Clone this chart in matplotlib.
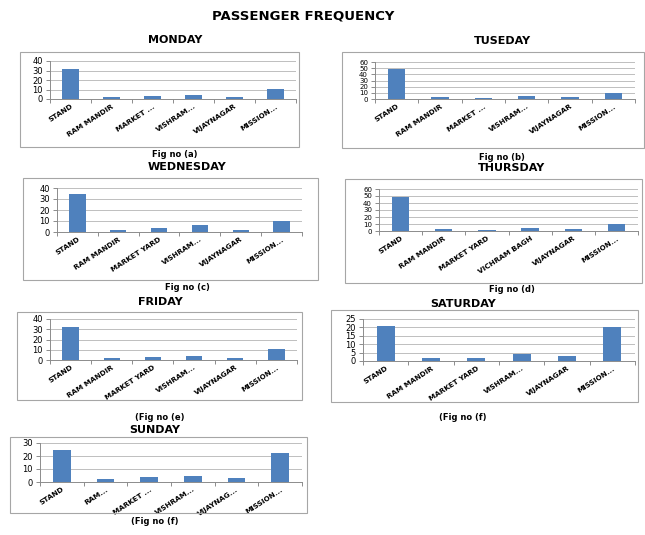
import matplotlib
matplotlib.use("Agg")
import matplotlib.pyplot as plt
from matplotlib.patches import Rectangle
import numpy as np

W, H = 645, 535

days = ["MONDAY", "TUSEDAY", "WEDNESDAY", "THURSDAY", "FRIDAY", "SATURDAY", "SUNDAY"]
captions = ["Fig no (a)", "Fig no (b)", "Fig no (c)", "Fig no (d)",
            "(Fig no (e)", "(Fig no (f)", "(Fig no (f)"]

labels_mon = ["STAND", "RAM MANDIR", "MARKET ...", "VISHRAM...", "VIJAYNAGAR", "MISSION..."]
labels_tue = ["STAND", "RAM MANDIR", "MARKET ...", "VISHRAM...", "VIJAYNAGAR", "MISSION..."]
labels_wed = ["STAND", "RAM MANDIR", "MARKET YARD", "VISHRAM...", "VIJAYNAGAR", "MISSION..."]
labels_thu = ["STAND", "RAM MANDIR", "MARKET YARD", "VICHRAM BAGH", "VIJAYNAGAR", "MISSION..."]
labels_fri = ["STAND", "RAM MANDIR", "MARKET YARD", "VISHRAM...", "VIJAYNAGAR", "MISSION..."]
labels_sat = ["STAND", "RAM MANDIR", "MARKET YARD", "VISHRAM...", "VIJAYNAGAR", "MISSION..."]
labels_sun = ["STAND", "RAM...", "MARKET ...", "VISHRAM...", "VIJAYNAG...", "MISSION..."]

mon = [32, 2, 3, 4, 2, 11]
tue = [48, 3, 2, 5, 3, 10]
wed = [35, 2, 4, 6, 2, 10]
thu = [48, 3, 2, 5, 3, 10]
fri = [32, 2, 3, 4, 2, 11]
sat = [21, 2, 2, 4, 3, 20]
sun = [25, 2, 4, 5, 3, 22]

ymax = [40, 60, 40, 60, 40, 25, 30]
ystep = [10, 10, 10, 10, 10, 5, 10]

# layout in pixels: frame box, plot area (x0, x1, ytop, ybottom), title y, caption y, centre x
frames = [(20, 52, 299, 147), (342, 52, 644, 148), (23, 178, 318, 280),
          (345, 179, 642, 283), (17, 312, 302, 400), (331, 310, 638, 402),
          (10, 437, 307, 513)]
plots = [(50, 296, 61, 99), (375, 635, 62, 99), (57, 302, 188, 232),
         (379, 638, 189, 231), (50, 297, 319, 360), (363, 635, 319, 361),
         (40, 302, 443, 482)]
title_y = [40, 41, 167, 168, 302, 304, 430]
cap_y = [155, 157, 288, 290, 417, 418, 522]
centre_x = [175, 502, 187, 512, 160, 463, 155]

series = [mon, tue, wed, thu, fri, sat, sun]
labels = [labels_mon, labels_tue, labels_wed, labels_thu, labels_fri, labels_sat, labels_sun]

BAR = "#4f81bd"
GRID = "#bfbfbf"
AXC = "#8c8c8c"

fig = plt.figure(figsize=(W / 100, H / 100), dpi=100)
fig.patch.set_facecolor("white")

fig.text(303 / W, 1 - 16 / H, "PASSENGER FREQUENCY", ha="center", va="center",
         fontsize=9.5, fontweight="bold")

for i in range(7):
    fx0, fy0, fx1, fy1 = frames[i]
    fig.patches.append(Rectangle((fx0 / W, 1 - fy1 / H), (fx1 - fx0) / W, (fy1 - fy0) / H,
                                 transform=fig.transFigure, fill=False,
                                 edgecolor="#a6a6a6", linewidth=0.8))
    x0, x1, yt, yb = plots[i]
    ax = fig.add_axes([x0 / W, 1 - yb / H, (x1 - x0) / W, (yb - yt) / H])
    x = np.arange(len(series[i]))
    ax.bar(x, series[i], width=0.4, color=BAR, zorder=3)
    ax.set_xlim(-0.5, len(x) - 0.5)
    ax.set_ylim(0, ymax[i])
    ax.set_yticks(np.arange(0, ymax[i] + 1, ystep[i]))
    ax.yaxis.grid(True, color=GRID, linewidth=0.7, zorder=0)
    ax.set_xticks(x)
    ax.set_xticklabels(labels[i], rotation=33, ha="right", rotation_mode="anchor",
                       fontsize=5.2, fontweight="bold")
    ax.set_xticks(np.arange(-0.5, len(x)), minor=True)
    ax.tick_params(axis="x", which="major", length=0, pad=3)
    ax.tick_params(axis="x", which="minor", length=3, color=AXC, width=0.7)
    ysize = 5 if ymax[i] == 60 else 6
    ax.tick_params(axis="y", length=3, color=AXC, width=0.7, labelsize=ysize, pad=2)
    for s in ["top", "right"]:
        ax.spines[s].set_visible(False)
    for s in ["left", "bottom"]:
        ax.spines[s].set_color(AXC)
        ax.spines[s].set_linewidth(0.7)
    ax.set_facecolor("none")

    fig.text(centre_x[i] / W, 1 - title_y[i] / H, days[i], ha="center", va="center",
             fontsize=8, fontweight="bold")
    fig.text(centre_x[i] / W, 1 - cap_y[i] / H, captions[i], ha="center", va="center",
             fontsize=6, fontweight="bold")

fig.savefig("out.png", dpi=100)
